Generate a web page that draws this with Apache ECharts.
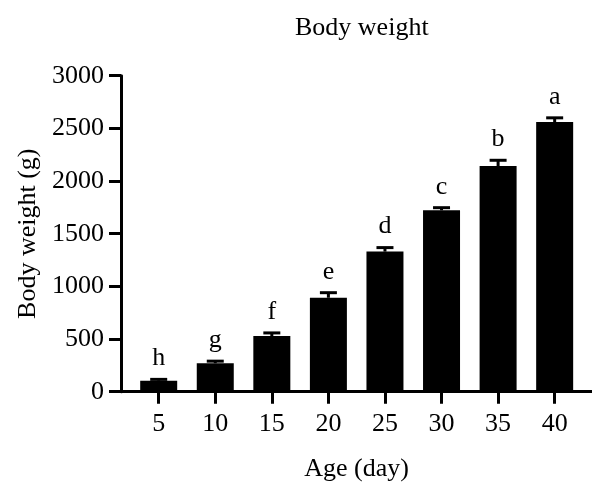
<!DOCTYPE html>
<html>
<head>
<meta charset="utf-8">
<script src="https://cdn.jsdelivr.net/npm/echarts@6/dist/echarts.min.js"></script>
<style>html,body{margin:0;padding:0;background:#fff}#c{width:592px;height:482px}</style>
</head>
<body>
<div id="c"></div>
<script>
var ages = [5, 10, 15, 20, 25, 30, 35, 40];
var weights = [105, 270, 528, 892, 1330, 1722, 2142, 2560];
var errors = [12, 20, 30, 48, 38, 25, 55, 40];
var letters = ['h', 'g', 'f', 'e', 'd', 'c', 'b', 'a'];
var yTicks = [0, 500, 1000, 1500, 2000, 2500, 3000];

var FONT = 'Liberation Serif';
var FS = 26;
var chart = echarts.init(document.getElementById('c'));
var barData = ages.map(function (a, i) { return [a, weights[i]]; });
var errData = ages.map(function (a, i) { return [a, weights[i], errors[i]]; });

chart.setOption({
  animation: false,
  title: {
    text: 'Body weight',
    left: 290, top: 10,
    textStyle: { fontFamily: FONT, fontSize: FS, fontWeight: 'normal', color: '#000' }
  },
  grid: { left: 121, right: 0, top: 75.7, bottom: 90.3, containLabel: false, outerBoundsMode: 'none' },
  xAxis: {
    type: 'value', min: 1.668, max: 43.3,
    name: 'Age (day)', nameLocation: 'middle', nameGap: 64,
    nameTextStyle: { fontFamily: FONT, fontSize: FS, color: '#000' },
    axisLine: { show: true, lineStyle: { color: '#000', width: 3 } },
    axisTick: { show: true, length: 12, lineStyle: { color: '#000', width: 3 }, customValues: ages },
    axisLabel: { fontFamily: FONT, fontSize: FS, color: '#000', margin: 19, customValues: ages,
      formatter: function (v) { return String(v); } },
    splitLine: { show: false }
  },
  yAxis: {
    type: 'value', min: 0, max: 3000, interval: 500,
    name: 'Body weight (g)', nameLocation: 'middle', nameGap: 63,
    nameTextStyle: { fontFamily: FONT, fontSize: FS, color: '#000' },
    axisLine: { show: true, lineStyle: { color: '#000', width: 3 } },
    axisTick: { show: true, length: 12, lineStyle: { color: '#000', width: 3 } },
    axisLabel: { fontFamily: FONT, fontSize: FS, color: '#000', margin: 17,
      customValues: yTicks, formatter: function (v) { return String(v); } },
    splitLine: { show: false }
  },
  series: [
    {
      type: 'bar', data: barData, barWidth: 37,
      itemStyle: { color: '#000' }
    },
    {
      type: 'custom', data: errData, z: 5,
      renderItem: function (params, api) {
        var x = api.value(0), m = api.value(1), e = api.value(2);
        var pTop = api.coord([x, m + e]);
        var pMid = api.coord([x, m]);
        var half = 8.5;
        return {
          type: 'group',
          children: [
            { type: 'line', shape: { x1: pMid[0], y1: pMid[1], x2: pTop[0], y2: pTop[1] }, style: { stroke: '#000', lineWidth: 3 } },
            { type: 'line', shape: { x1: pTop[0] - half, y1: pTop[1], x2: pTop[0] + half, y2: pTop[1] }, style: { stroke: '#000', lineWidth: 3 } },
            { type: 'text', x: pTop[0], y: pTop[1] - 8, style: { text: letters[params.dataIndex], fontFamily: FONT, fontSize: FS, fill: '#000', align: 'center', verticalAlign: 'bottom' } }
          ]
        };
      }
    }
  ]
});
</script>
</body>
</html>
